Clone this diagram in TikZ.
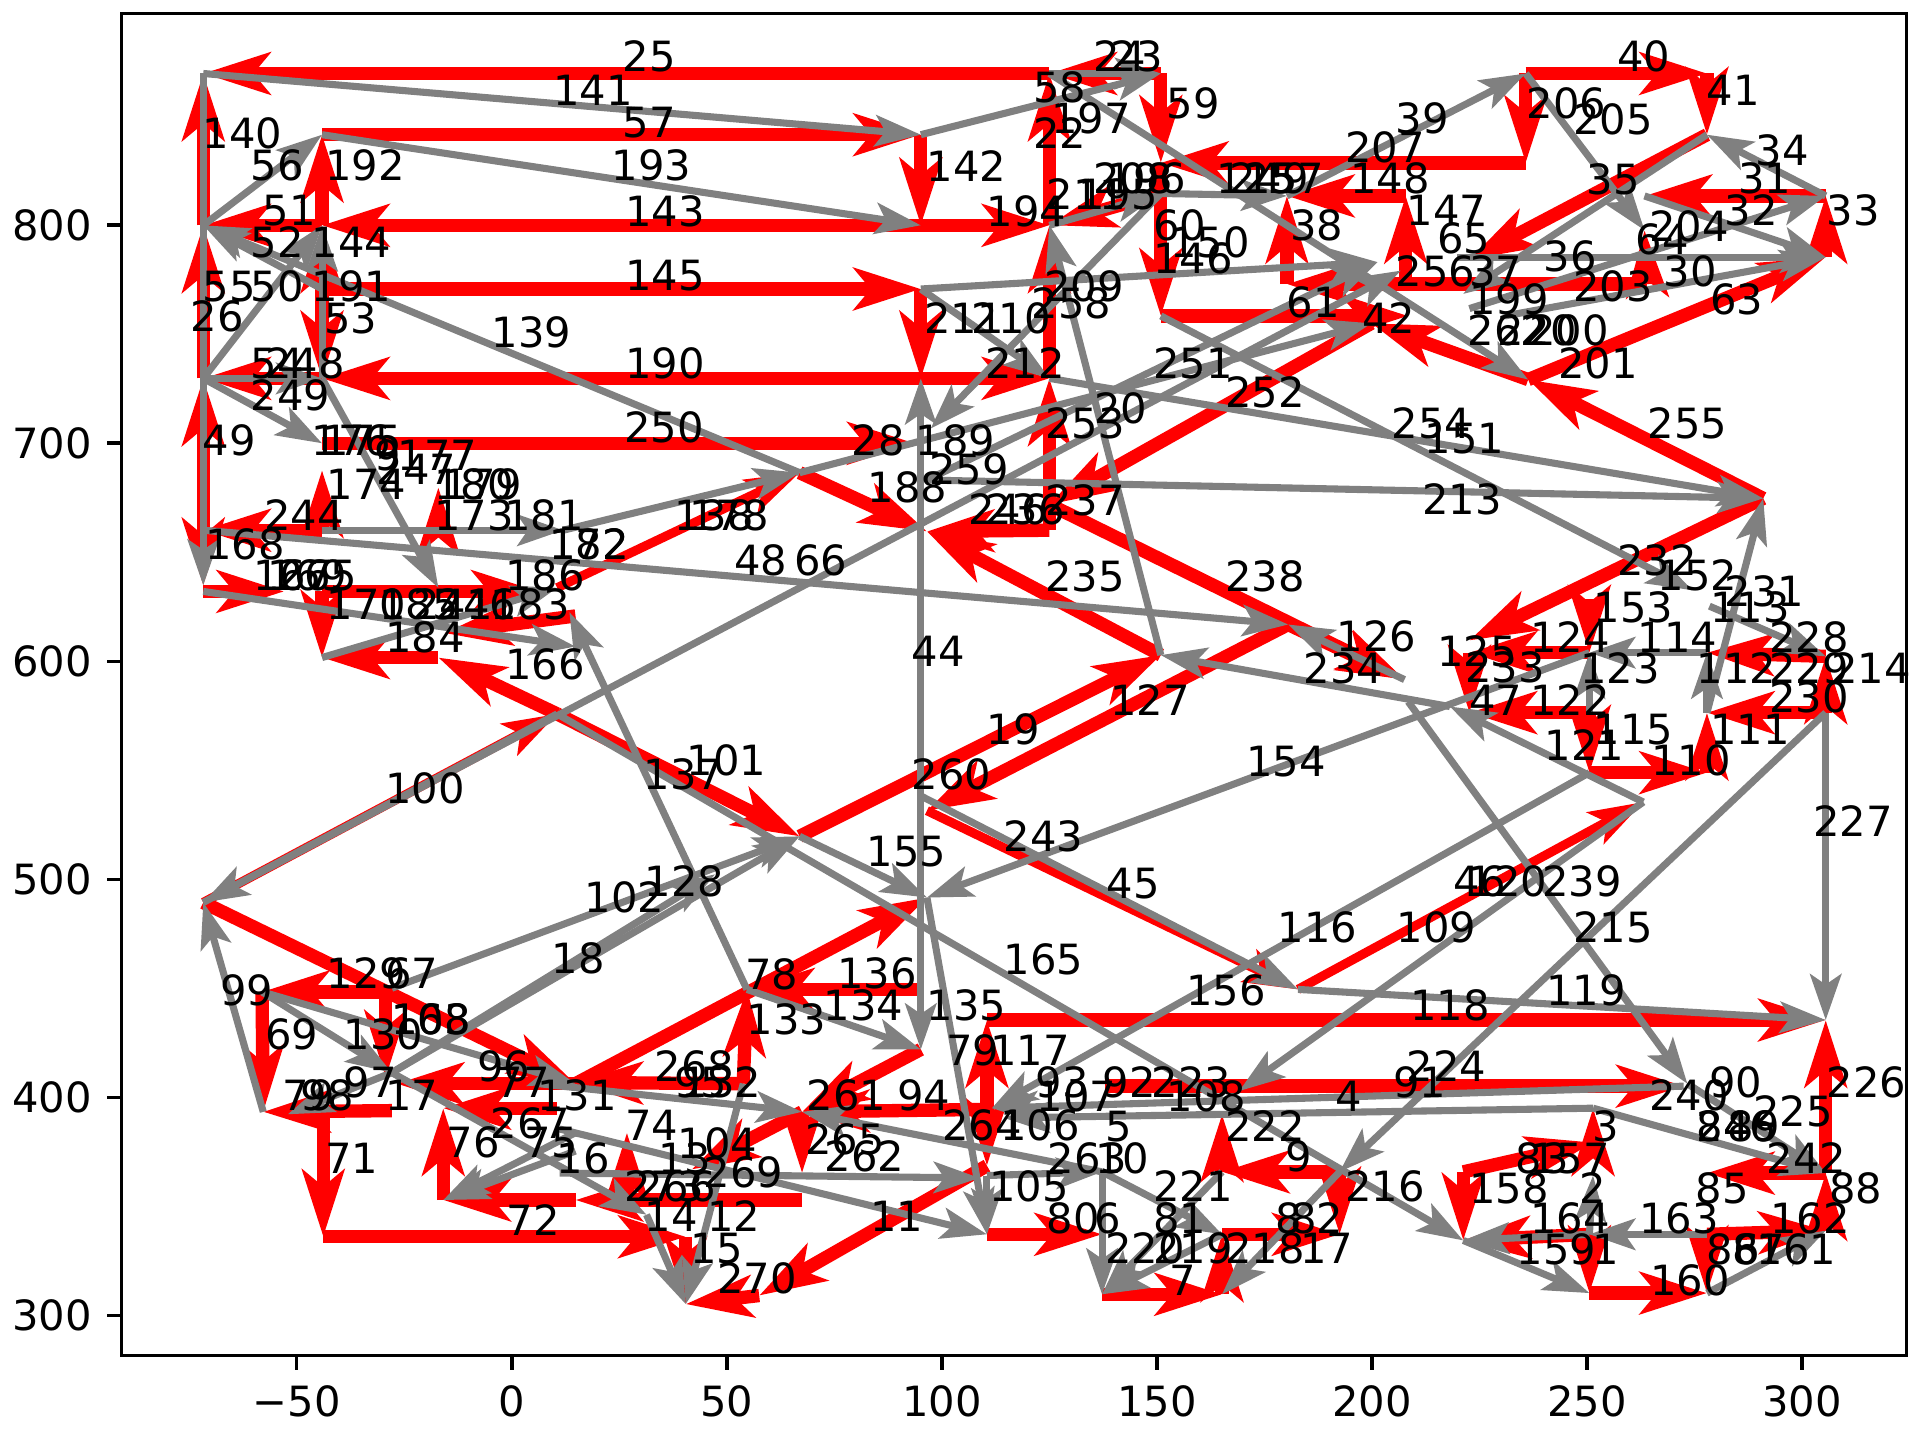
\documentclass[tikz,border=0pt]{standalone}
\usepackage{fontspec}
\setmainfont{DejaVu Sans}
\usetikzlibrary{arrows.meta}
\begin{document}
\begin{tikzpicture}[x=0.29388pt, y=-0.29388pt,
  redarr/.style={draw=red, line width=3.2pt, -{Stealth[length=16pt, width=10pt, inset=4pt]}},
  thinred/.style={draw=red, line width=2.2pt, -{Stealth[length=13pt, width=8.5pt, inset=3pt]}},
  grayarr/.style={draw=gray, line width=1.7pt, -{Stealth[length=11pt, width=7.5pt, inset=2.5pt]}},
  lbl/.style={anchor=base west, inner sep=0pt, font=\fontsize{10}{12}\selectfont},
  ticklbl/.style={inner sep=0pt, font=\fontsize{10}{12}\selectfont},
  tickmark/.style={line width=0.8pt}]

  %% ════ 顶点 ════
  \coordinate (a1) at (166,60);   \coordinate (a2) at (166,184);  \coordinate (a3) at (166,309);
  \coordinate (a4) at (166,433);  \coordinate (a5) at (166,478);
  \coordinate (b1) at (263,110);  \coordinate (b2) at (263,184);  \coordinate (b3) at (263,236);
  \coordinate (b4) at (263,309);  \coordinate (b5) at (263,362);  \coordinate (b6) at (263,433);
  \coordinate (b7) at (263,537);  \coordinate (b8) at (263,384);
  \coordinate (c1) at (752,110);  \coordinate (c2) at (752,184);  \coordinate (c3) at (752,236);
  \coordinate (c4) at (752,309);  \coordinate (c5) at (747,362);
  \coordinate (d1) at (857,60);   \coordinate (d2) at (857,184);  \coordinate (d3) at (857,309);
  \coordinate (d4) at (857,433);  \coordinate (d5) at (857,412);
  \coordinate (e1) at (948,60);   \coordinate (e2) at (948,133);  \coordinate (e3) at (948,158);
  \coordinate (e4) at (948,258);  \coordinate (e5) at (1150,258);
  \coordinate (f1) at (1051,160); \coordinate (f2) at (1051,232); \coordinate (f3) at (1148,160);
  \coordinate (f4) at (1148,232); \coordinate (f5) at (1246,60);  \coordinate (f6) at (1246,133);
  \coordinate (g1) at (1394,60);  \coordinate (g2) at (1394,110); \coordinate (g3) at (1343,160);
  \coordinate (g4) at (1343,188); \coordinate (g5) at (1491,160); \coordinate (g6) at (1491,210);
  \coordinate (g7) at (1345,232);
  \coordinate (h1) at (1248,310); \coordinate (h2) at (1440,407); \coordinate (h3) at (1200,212);
  \coordinate (h4) at (1120,264); \coordinate (h5) at (1144,221); \coordinate (h6) at (1125,214);
  \coordinate (h7) at (1195,240); \coordinate (h8) at (1200,252); \coordinate (h9) at (1190,210);
  \coordinate (h10) at (1229,258); \coordinate (h11) at (1382,482); \coordinate (h12) at (1298,533);
  \coordinate (k1) at (358,480);  \coordinate (k2) at (358,537);  \coordinate (k3) at (455,480);
  \coordinate (k4) at (455,583);  \coordinate (k5) at (653,386);  \coordinate (k6) at (760,350);
  \coordinate (k7) at (653,683);  \coordinate (k8) at (465,500);  \coordinate (k9) at (166,737);
  \coordinate (k10) at (948,535); \coordinate (k11) at (1052,510); \coordinate (k12) at (757,434);
  \coordinate (k13) at (752,650); \coordinate (k14) at (757,662); \coordinate (k15) at (1147,555);
  \coordinate (k16) at (757,733); \coordinate (k17) at (752,857); \coordinate (k18) at (610,808);
  \coordinate (k19) at (607,885); \coordinate (k20) at (470,885); \coordinate (k21) at (324,885);
  \coordinate (k22) at (320,876); \coordinate (k23) at (215,908); \coordinate (k24) at (214,810);
  \coordinate (k25) at (315,810); \coordinate (k26) at (264,908); \coordinate (k27) at (264,1010);
  \coordinate (k28) at (560,1010); \coordinate (k29) at (362,980); \coordinate (k30) at (362,905);
  \coordinate (k31) at (655,908); \coordinate (k32) at (655,958); \coordinate (k33) at (806,906);
  \coordinate (k34) at (806,833); \coordinate (k35) at (806,1008); \coordinate (k36) at (900,1008);
  \coordinate (k37) at (900,957); \coordinate (k38) at (900,1057); \coordinate (k39) at (998,1057);
  \coordinate (k40) at (998,957); \coordinate (k41) at (998,910); \coordinate (k42) at (1094,957);
  \coordinate (k43) at (1094,1008); \coordinate (k44) at (998,1008); \coordinate (k46) at (1060,808);
  \coordinate (k47) at (1491,833); \coordinate (k48) at (1491,582); \coordinate (k49) at (1491,958);
  \coordinate (k50) at (1491,1005); \coordinate (k51) at (1394,958); \coordinate (k52) at (1394,1008);
  \coordinate (k53) at (1394,1056); \coordinate (k54) at (1298,1056); \coordinate (k55) at (1298,1008);
  \coordinate (k56) at (1195,1013); \coordinate (k57) at (1195,957); \coordinate (k58) at (1301,933);
  \coordinate (k59) at (1378,885); \coordinate (k60) at (1150,573); \coordinate (k61) at (1394,582);
  \coordinate (k62) at (1200,523); \coordinate (k63) at (620,1058); \coordinate (k64) at (560,1065);
  \coordinate (k65) at (806,952); \coordinate (k66) at (752,808); \coordinate (k67) at (315,880);
  \coordinate (k68) at (320,907); \coordinate (k69) at (470,980); \coordinate (k70) at (655,980);
  \coordinate (k71) at (1301,905); \coordinate (k72) at (902,887); \coordinate (k73) at (1375,887);
  \coordinate (k75) at (584,714); \coordinate (k76) at (320,807); \coordinate (k77) at (440,885);
  \coordinate (k78) at (757,392); \coordinate (k81) at (810,905); \coordinate (k82) at (820,913);
  \coordinate (k83) at (235,910); \coordinate (k84) at (470,884); \coordinate (k85) at (565,955);
  \coordinate (k87) at (1012,891); \coordinate (k89) at (806,960); \coordinate (k90) at (455,905);
  \coordinate (k91) at (528,992); \coordinate (k92) at (460,433); \coordinate (k93) at (358,433);
  \coordinate (k94) at (358,398); \coordinate (k95) at (512,980); \coordinate (k96) at (512,925);
  \coordinate (k99) at (457,958); \coordinate (k100) at (800,962); \coordinate (k101) at (457,922);
  \coordinate (k102) at (470,925); \coordinate (k103) at (470,940); \coordinate (k104) at (166,483);
  \coordinate (k105) at (232,483); \coordinate (k106) at (263,483); \coordinate (k107) at (440,483);
  \coordinate (k108) at (470,528); \coordinate (k110) at (1301,960); \coordinate (k111) at (470,503);
  \coordinate (k112) at (363,517);
  \coordinate (r1) at (1298,489); \coordinate (r2) at (1200,533); \coordinate (r3) at (1394,533);
  \coordinate (r4) at (1491,536); \coordinate (r5) at (1298,582); \coordinate (r6) at (1200,582);
  \coordinate (r7) at (1184,577); \coordinate (r8) at (1342,655); \coordinate (r9) at (1298,631);
  \coordinate (r10) at (1394,631); \coordinate (r11) at (1396,495);

  %% ════ 坐标轴 ════
  \draw[tickmark] (99.4,10.9) rectangle (1557.1,1107.2);
  \foreach \xx/\tl in {242.4/−50, 418/0, 593.6/50, 769.2/100, 944.8/150, 1120.4/200, 1296/250, 1471.6/300} {
    \draw[tickmark] (\xx,1107.2) -- (\xx,1119.1);
    \node[ticklbl, anchor=north] at (\xx,1131) {\tl};
  }
  \foreach \yy/\tl in {1074.3/300, 896.2/400, 718.1/500, 540/600, 361.9/700, 183.8/800} {
    \draw[tickmark] (99.4,\yy) -- (87.5,\yy);
    \node[ticklbl, anchor=east] at (75.6,\yy) {\tl};
  }

  %% ════ 红色箭头 ════
  \draw[redarr] (d1) -- (a1);  \draw[redarr] (a2) -- (a1);  \draw[redarr] (a3) -- (a2);
  \draw[redarr] (a4) -- (a3);  \draw[redarr] (a4) -- (a5);  \draw[redarr] (b2) -- (a2);
  \draw[redarr] (b4) -- (a3);  \draw[redarr] (b6) -- (a4);  \draw[redarr] (b2) -- (b1);
  \draw[redarr] (b1) -- (c1);  \draw[redarr] (c2) -- (b2);  \draw[redarr] (b3) -- (b2);
  \draw[redarr] (b3) -- (c3);  \draw[redarr] (b3) -- (b4);  \draw[redarr] (c4) -- (b4);
  \draw[redarr] (b5) -- (c5);  \draw[redarr] (c1) -- (c2);  \draw[redarr] (c2) -- (d2);
  \draw[redarr] (c3) -- (c4);  \draw[redarr] (c4) -- (d3);  \draw[redarr] (d2) -- (d1);
  \draw[redarr] (d3) -- (d2);  \draw[redarr] (d4) -- (d3);  \draw[redarr] (e1) -- (e2);
  \draw[redarr] (e1) -- (d1);  \draw[redarr] (f6) -- (e2);  \draw[redarr] (f5) -- (f6);
  \draw[redarr] (f5) -- (g1);  \draw[redarr] (g1) -- (g2);  \draw[redarr] (g2) -- (h3);
  \draw[redarr] (g5) -- (g3);  \draw[redarr] (g6) -- (g5);  \draw[redarr] (g7) -- (g4);
  \draw[redarr] (g7) -- (f2);  \draw[redarr] (f2) -- (f1);  \draw[redarr] (f4) -- (f3);
  \draw[redarr] (f3) -- (f1);  \draw[redarr] (e3) -- (d2);  \draw[redarr] (e2) -- (e4);
  \draw[redarr] (e4) -- (e5);  \draw[redarr] (h1) -- (g6);  \draw[redarr] (h2) -- (h1);
  \draw[redarr] (h1) -- (h4);  \draw[redarr] (b6) -- (b8);  \draw[redarr] (k2) -- (b7);
  \draw[redarr] (k4) -- (k2);  \draw[redarr] (k4) -- (k7);  \draw[redarr] (k9) -- (k20);
  \draw[redarr] (k10) -- (k12); \draw[redarr] (d4) -- (k12); \draw[redarr] (k7) -- (k10);
  \draw[redarr] (k11) -- (k14); \draw[redarr] (d5) -- (k15); \draw[redarr] (k11) -- (k15);
  \draw[redarr] (h4) -- (d5);  \draw[redarr] (k20) -- (k16); \draw[redarr] (k19) -- (k18);
  \draw[redarr] (k66) -- (k18); \draw[redarr] (k17) -- (k31); \draw[redarr] (k33) -- (k31);
  \draw[redarr] (k31) -- (k32); \draw[redarr] (k25) -- (k24); \draw[redarr] (k24) -- (k23);
  \draw[redarr] (k25) -- (k67); \draw[redarr] (k20) -- (k21); \draw[redarr] (k68) -- (k23);
  \draw[redarr] (k26) -- (k27); \draw[redarr] (k27) -- (k28); \draw[redarr] (k29) -- (k30);
  \draw[redarr] (k69) -- (k29); \draw[redarr] (k70) -- (k69); \draw[redarr] (k34) -- (k47);
  \draw[redarr] (k33) -- (k34); \draw[redarr] (k65) -- (k63); \draw[redarr] (k63) -- (k64);
  \draw[redarr] (k35) -- (k36); \draw[redarr] (k38) -- (k39); \draw[redarr] (k40) -- (k41);
  \draw[redarr] (k42) -- (k40); \draw[redarr] (k42) -- (k43); \draw[redarr] (k39) -- (k44);
  \draw[redarr] (k44) -- (k43); \draw[redarr] (k49) -- (k47); \draw[redarr] (k50) -- (k49);
  \draw[redarr] (k49) -- (k51); \draw[redarr] (k52) -- (k50); \draw[redarr] (k52) -- (k53);
  \draw[redarr] (k54) -- (k53); \draw[redarr] (k55) -- (k54); \draw[redarr] (k55) -- (k56);
  \draw[redarr] (k57) -- (k56); \draw[redarr] (k57) -- (k58); \draw[redarr] (k58) -- (k71);
  \draw[redarr] (k72) -- (k73); \draw[redarr] (h2) -- (k62); \draw[redarr] (k48) -- (k61);
  \draw[redarr] (r1) -- (h12); \draw[redarr] (h12) -- (r2); \draw[redarr] (r4) -- (r3);
  \draw[redarr] (r5) -- (r6); \draw[redarr] (r10) -- (k61); \draw[redarr] (r9) -- (r10);
  \draw[redarr] (r5) -- (r9); \draw[redarr] (r2) -- (r6); \draw[redarr] (k48) -- (r4);
  \draw[redarr] (k33) -- (k65); \draw[redarr] (k5) -- (k12); \draw[redarr] (k106) -- (k107);
  \draw[redarr] (k104) -- (k105); \draw[redarr] (k106) -- (b7); \draw[redarr] (k19) -- (k84);
  \draw[redarr] (k28) -- (k64); \draw[redarr] (k95) -- (k96); \draw[redarr] (k31) -- (k85);
  \draw[redarr] (k90) -- (k30); \draw[redarr] (k93) -- (k94); \draw[redarr] (k111) -- (k112);
  \draw[thinred] (k9) -- (k4);  \draw[thinred] (k3) -- (k5);  \draw[thinred] (k46) -- (r8);
  \draw[thinred] (k14) -- (k46);

  %% ════ 灰色箭头 ════
  \draw[grayarr] (a1) -- (a5);  \draw[grayarr] (a1) -- (c1);  \draw[grayarr] (a2) -- (b1);
  \draw[grayarr] (b3) -- (a2);  \draw[grayarr] (a3) -- (b2);  \draw[grayarr] (b4) -- (b2);
  \draw[grayarr] (a3) -- (b4);  \draw[grayarr] (a3) -- (b5);  \draw[grayarr] (b1) -- (c2);
  \draw[grayarr] (k5) -- (a2);  \draw[grayarr] (c1) -- (e1);  \draw[grayarr] (d1) -- (e1);
  \draw[grayarr] (d1) -- (h1);  \draw[grayarr] (f1) -- (f5);  \draw[grayarr] (f5) -- (g4);
  \draw[grayarr] (g5) -- (g2);  \draw[grayarr] (g2) -- (h7);  \draw[grayarr] (g3) -- (g6);
  \draw[grayarr] (h8) -- (g5);  \draw[grayarr] (h9) -- (g6);  \draw[grayarr] (h10) -- (g6);
  \draw[grayarr] (c3) -- (h6);  \draw[grayarr] (c3) -- (d3);  \draw[grayarr] (k10) -- (d2);
  \draw[grayarr] (e3) -- (k6);  \draw[grayarr] (d3) -- (h2);  \draw[grayarr] (e4) -- (h11);
  \draw[grayarr] (a4) -- (k11); \draw[grayarr] (k9) -- (h5);  \draw[grayarr] (k4) -- (k9);
  \draw[grayarr] (b4) -- (k1);  \draw[grayarr] (k18) -- (k8); \draw[grayarr] (k18) -- (k17);
  \draw[grayarr] (k13) -- (c4); \draw[grayarr] (k13) -- (k17); \draw[grayarr] (k7) -- (k16);
  \draw[grayarr] (h12) -- (k16); \draw[grayarr] (k13) -- (k46); \draw[grayarr] (k46) -- (k47);
  \draw[grayarr] (k48) -- (k47); \draw[grayarr] (k48) -- (k42); \draw[grayarr] (k60) -- (k59);
  \draw[grayarr] (k61) -- (h2); \draw[grayarr] (k52) -- (k55); \draw[grayarr] (k53) -- (k50);
  \draw[grayarr] (k56) -- (k54); \draw[grayarr] (k37) -- (k38); \draw[grayarr] (k16) -- (k35);
  \draw[grayarr] (k23) -- (k9); \draw[grayarr] (k24) -- (k22); \draw[grayarr] (k24) -- (k20);
  \draw[grayarr] (k22) -- (k75); \draw[grayarr] (k76) -- (k7); \draw[grayarr] (k22) -- (k7);
  \draw[grayarr] (k77) -- (k31); \draw[grayarr] (k78) -- (h6); \draw[grayarr] (k4) -- (k56);
  \draw[grayarr] (r7) -- (k10); \draw[grayarr] (k15) -- (k11); \draw[grayarr] (r8) -- (r7);
  \draw[grayarr] (r3) -- (h12); \draw[grayarr] (r5) -- (h12); \draw[grayarr] (k61) -- (r3);
  \draw[grayarr] (r11) -- (r4); \draw[grayarr] (k92) -- (k5); \draw[grayarr] (b7) -- (k3);
  \draw[grayarr] (k73) -- (k81); \draw[grayarr] (k71) -- (k82); \draw[grayarr] (k59) -- (k49);
  \draw[grayarr] (k71) -- (k49); \draw[grayarr] (e3) -- (f1); \draw[grayarr] (d2) -- (e3);
  \draw[grayarr] (k104) -- (k108); \draw[grayarr] (k19) -- (k64); \draw[grayarr] (k99) -- (k100);
  \draw[grayarr] (k101) -- (k35); \draw[grayarr] (k37) -- (k31); \draw[grayarr] (r9) -- (k81);
  \draw[grayarr] (r8) -- (k87); \draw[grayarr] (k37) -- (k44); \draw[grayarr] (k40) -- (k38);
  \draw[grayarr] (k44) -- (k38); \draw[grayarr] (k42) -- (k39); \draw[grayarr] (k89) -- (k37);
  \draw[grayarr] (k89) -- (k35); \draw[grayarr] (k55) -- (k56); \draw[grayarr] (k55) -- (k110);
  \draw[grayarr] (k22) -- (k83); \draw[grayarr] (k102) -- (k29); \draw[grayarr] (k103) -- (k29);
  \draw[grayarr] (k22) -- (k91); \draw[grayarr] (k91) -- (k64); \draw[grayarr] (k5) -- (h4);
  \draw[grayarr] (k78) -- (h2); \draw[grayarr] (b6) -- (k92);

  %% ════ 标签 ════
  \node[lbl] at (508,58) {25};   \node[lbl] at (892,58) {24};   \node[lbl] at (906,58) {23};
  \node[lbl] at (1320,58) {40};  \node[lbl] at (451,86) {141};  \node[lbl] at (843,84) {58};
  \node[lbl] at (952,97) {59};   \node[lbl] at (1393,86) {41};  \node[lbl] at (165,121) {140};
  \node[lbl] at (508,112) {57};  \node[lbl] at (858,109) {197}; \node[lbl] at (843,121) {22};
  \node[lbl] at (1139,109) {39}; \node[lbl] at (1246,97) {206}; \node[lbl] at (1284,110) {205};
  \node[lbl] at (1433,135) {34}; \node[lbl] at (204,147) {56};  \node[lbl] at (265,147) {192};
  \node[lbl] at (499,147) {193}; \node[lbl] at (756,148) {142}; \node[lbl] at (1098,133) {207};
  \node[lbl] at (1102,158) {148}; \node[lbl] at (1148,184) {147};
  \node[lbl] at (993,158) {125}; \node[lbl] at (1003,158) {249}; \node[lbl] at (1016,158) {157};
  \node[lbl] at (892,158) {208}; \node[lbl] at (903,158) {196};
  \node[lbl] at (854,171) {211}; \node[lbl] at (880,171) {195};
  \node[lbl] at (805,185) {194}; \node[lbl] at (941,196) {60};  \node[lbl] at (955,210) {150};
  \node[lbl] at (941,223) {146}; \node[lbl] at (1053,196) {38}; \node[lbl] at (1173,207) {65};
  \node[lbl] at (1295,159) {35}; \node[lbl] at (1419,158) {31}; \node[lbl] at (1491,184) {33};
  \node[lbl] at (1408,184) {32}; \node[lbl] at (1346,197) {204}; \node[lbl] at (1335,208) {64};
  \node[lbl] at (214,184) {51};  \node[lbl] at (510,185) {143}; \node[lbl] at (204,210) {52};
  \node[lbl] at (254,210) {144}; \node[lbl] at (165,246) {55};  \node[lbl] at (204,246) {50};
  \node[lbl] at (254,246) {191}; \node[lbl] at (510,237) {145}; \node[lbl] at (155,271) {26};
  \node[lbl] at (264,272) {53};  \node[lbl] at (1139,234) {256}; \node[lbl] at (1199,234) {37};
  \node[lbl] at (1260,222) {36}; \node[lbl] at (1358,234) {30}; \node[lbl] at (1284,246) {203};
  \node[lbl] at (1199,257) {199}; \node[lbl] at (1396,257) {63};
  \node[lbl] at (1198,282) {262}; \node[lbl] at (1222,282) {220}; \node[lbl] at (1248,282) {200};
  \node[lbl] at (1272,309) {201}; \node[lbl] at (1112,272) {42}; \node[lbl] at (1050,259) {61};
  \node[lbl] at (852,246) {209}; \node[lbl] at (842,260) {258}; \node[lbl] at (754,272) {211};
  \node[lbl] at (793,272) {210}; \node[lbl] at (804,309) {212}; \node[lbl] at (510,309) {190};
  \node[lbl] at (204,309) {54};  \node[lbl] at (216,309) {248}; \node[lbl] at (204,335) {249};
  \node[lbl] at (401,284) {139}; \node[lbl] at (941,309) {251}; \node[lbl] at (1000,333) {252};
  \node[lbl] at (893,346) {20};  \node[lbl] at (853,358) {253}; \node[lbl] at (1136,358) {254};
  \node[lbl] at (1163,370) {151}; \node[lbl] at (1345,358) {255}; \node[lbl] at (509,361) {250};
  \node[lbl] at (695,372) {28};  \node[lbl] at (747,372) {189}; \node[lbl] at (165,372) {49};
  \node[lbl] at (254,372) {176}; \node[lbl] at (263,372) {175}; \node[lbl] at (266,408) {174};
  \node[lbl] at (307,396) {247}; \node[lbl] at (324,384) {177}; \node[lbl] at (305,384) {9};
  \node[lbl] at (354,408) {180}; \node[lbl] at (361,408) {179};
  \node[lbl] at (354,433) {173}; \node[lbl] at (411,433) {181}; \node[lbl] at (215,433) {244};
  \node[lbl] at (167,457) {168}; \node[lbl] at (448,457) {182}; \node[lbl] at (448,457) {172};
  \node[lbl] at (550,433) {138}; \node[lbl] at (562,433) {178};
  \node[lbl] at (599,470) {48};  \node[lbl] at (648,470) {66};  \node[lbl] at (708,410) {188};
  \node[lbl] at (758,396) {259}; \node[lbl] at (790,428) {246}; \node[lbl] at (804,428) {236};
  \node[lbl] at (853,421) {237}; \node[lbl] at (1161,420) {213}; \node[lbl] at (1320,470) {232};
  \node[lbl] at (1353,482) {152}; \node[lbl] at (1408,495) {231}; \node[lbl] at (1396,508) {113};
  \node[lbl] at (1301,508) {153};
  \node[lbl] at (206,482) {167}; \node[lbl] at (218,482) {169}; \node[lbl] at (226,482) {265};
  \node[lbl] at (412,482) {186}; \node[lbl] at (266,506) {170}; \node[lbl] at (309,506) {185};
  \node[lbl] at (337,506) {241}; \node[lbl] at (356,506) {246}; \node[lbl] at (400,506) {183};
  \node[lbl] at (314,533) {184}; \node[lbl] at (412,555) {166}; \node[lbl] at (853,483) {235};
  \node[lbl] at (1000,483) {238}; \node[lbl] at (1091,532) {126}; \node[lbl] at (1249,533) {124};
  \node[lbl] at (1337,533) {114}; \node[lbl] at (1444,533) {228}; \node[lbl] at (1173,544) {125};
  \node[lbl] at (744,544) {44};  \node[lbl] at (1064,558) {234}; \node[lbl] at (1196,557) {233};
  \node[lbl] at (1290,558) {123}; \node[lbl] at (1385,558) {112}; \node[lbl] at (1444,558) {229};
  \node[lbl] at (1495,558) {214}; \node[lbl] at (1199,584) {47};  \node[lbl] at (1249,584) {122};
  \node[lbl] at (1444,582) {230}; \node[lbl] at (906,584) {127}; \node[lbl] at (805,608) {19};
  \node[lbl] at (1301,608) {115}; \node[lbl] at (1396,608) {111}; \node[lbl] at (1261,621) {121};
  \node[lbl] at (1348,633) {110}; \node[lbl] at (560,633) {101}; \node[lbl] at (1017,634) {154};
  \node[lbl] at (525,645) {137}; \node[lbl] at (744,645) {260}; \node[lbl] at (314,656) {100};
  \node[lbl] at (1480,683) {227}; \node[lbl] at (819,695) {243}; \node[lbl] at (707,708) {155};
  \node[lbl] at (526,732) {128}; \node[lbl] at (903,734) {45};  \node[lbl] at (477,745) {102};
  \node[lbl] at (1186,732) {46};  \node[lbl] at (1198,732) {120}; \node[lbl] at (1259,732) {239};
  \node[lbl] at (1284,770) {215}; \node[lbl] at (1043,770) {116}; \node[lbl] at (1140,770) {109};
  \node[lbl] at (819,796) {165}; \node[lbl] at (450,795) {18};  \node[lbl] at (266,807) {129};
  \node[lbl] at (314,807) {67};  \node[lbl] at (608,808) {78};  \node[lbl] at (683,807) {136};
  \node[lbl] at (179,821) {99};  \node[lbl] at (968,821) {156}; \node[lbl] at (1262,821) {119};
  \node[lbl] at (672,833) {134}; \node[lbl] at (1151,833) {118}; \node[lbl] at (756,833) {135};
  \node[lbl] at (609,845) {133}; \node[lbl] at (319,845) {108}; \node[lbl] at (319,845) {163};
  \node[lbl] at (216,857) {69};  \node[lbl] at (280,857) {130}; \node[lbl] at (772,870) {79};
  \node[lbl] at (808,870) {117}; \node[lbl] at (389,883) {96};  \node[lbl] at (534,883) {268};
  \node[lbl] at (1148,883) {224}; \node[lbl] at (280,896) {97};  \node[lbl] at (405,896) {77};
  \node[lbl] at (550,896) {95};  \node[lbl] at (556,896) {132}; \node[lbl] at (845,896) {93};
  \node[lbl] at (900,896) {92};  \node[lbl] at (940,896) {223}; \node[lbl] at (1137,896) {91};
  \node[lbl] at (1395,896) {90};  \node[lbl] at (1491,896) {226}; \node[lbl] at (230,907) {79};
  \node[lbl] at (245,907) {98};  \node[lbl] at (314,907) {17};  \node[lbl] at (438,907) {131};
  \node[lbl] at (658,907) {261}; \node[lbl] at (732,907) {94};  \node[lbl] at (846,908) {107};
  \node[lbl] at (952,908) {108}; \node[lbl] at (1090,908) {4};   \node[lbl] at (1346,907) {240};
  \node[lbl] at (1431,920) {225}; \node[lbl] at (400,930) {267}; \node[lbl] at (510,931) {74};
  \node[lbl] at (769,931) {264}; \node[lbl] at (816,931) {106}; \node[lbl] at (902,932) {5};
  \node[lbl] at (1000,932) {222}; \node[lbl] at (1300,932) {3};   \node[lbl] at (1385,932) {84};
  \node[lbl] at (1385,932) {246}; \node[lbl] at (1410,932) {89};
  \node[lbl] at (364,945) {76};  \node[lbl] at (428,945) {75};  \node[lbl] at (553,946) {104};
  \node[lbl] at (657,943) {265}; \node[lbl] at (265,958) {71};  \node[lbl] at (454,958) {16};
  \node[lbl] at (537,958) {13};  \node[lbl] at (673,957) {262}; \node[lbl] at (855,958) {263};
  \node[lbl] at (894,958) {10};  \node[lbl] at (1049,957) {9};   \node[lbl] at (1237,958) {83};
  \node[lbl] at (1249,958) {157}; \node[lbl] at (1442,958) {242}; \node[lbl] at (574,970) {269};
  \node[lbl] at (509,981) {273}; \node[lbl] at (519,981) {266}; \node[lbl] at (807,981) {105};
  \node[lbl] at (941,981) {221}; \node[lbl] at (1098,981) {216}; \node[lbl] at (1199,983) {158};
  \node[lbl] at (1289,983) {2};   \node[lbl] at (1384,983) {85};  \node[lbl] at (1493,983) {88};
  \node[lbl] at (413,1009) {72};  \node[lbl] at (526,1006) {14};  \node[lbl] at (577,1006) {12};
  \node[lbl] at (710,1006) {11};  \node[lbl] at (854,1007) {80};  \node[lbl] at (893,1007) {6};
  \node[lbl] at (941,1007) {81};  \node[lbl] at (1041,1007) {8};  \node[lbl] at (1053,1007) {82};
  \node[lbl] at (1249,1007) {164}; \node[lbl] at (1338,1007) {163}; \node[lbl] at (1445,1007) {162};
  \node[lbl] at (563,1032) {15};  \node[lbl] at (902,1032) {220}; \node[lbl] at (941,1032) {219};
  \node[lbl] at (1000,1032) {218}; \node[lbl] at (1061,1032) {17}; \node[lbl] at (1238,1033) {159};
  \node[lbl] at (1300,1033) {1};   \node[lbl] at (1393,1033) {86};  \node[lbl] at (1414,1033) {87};
  \node[lbl] at (1434,1033) {161}; \node[lbl] at (585,1056) {270}; \node[lbl] at (954,1058) {7};
  \node[lbl] at (1347,1058) {160};

  % 钉死画布
  \pgfresetboundingbox
  \path[use as bounding box] (0,0) rectangle (1568,1176);
\end{tikzpicture}
\end{document}
